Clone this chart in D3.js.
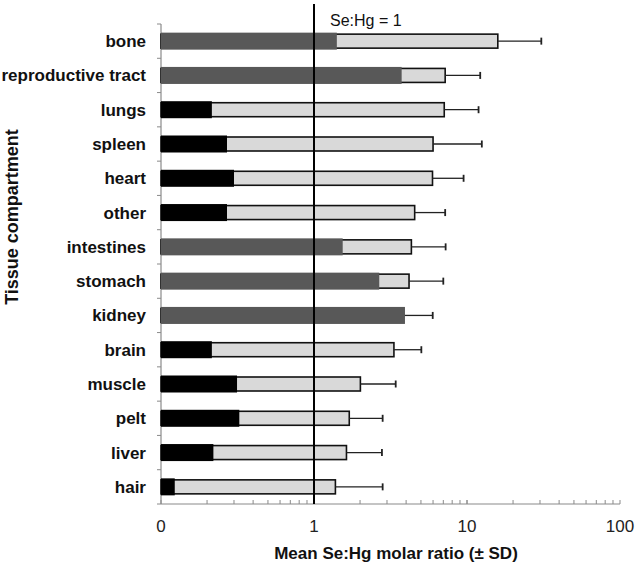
<!DOCTYPE html>
<html>
<head>
<meta charset="utf-8">
<script src="https://cdn.jsdelivr.net/npm/d3@7"></script>
<style>
  body { margin: 0; background: #fff; }
  svg { display: block; font-family: Arial, "Liberation Sans", sans-serif; }
</style>
</head>
<body>
<svg id="chart" width="638" height="578"></svg>
<script>
const categories = ["bone","reproductive tract","lungs","spleen","heart","other","intestines","stomach","kidney","brain","muscle","pelt","liver","hair"];
// overall mean Se:Hg ratio (light bar)
const meanRatio = [15.9, 7.2, 7.1, 6.0, 5.95, 4.55, 4.33, 4.18, 3.85, 3.33, 2.01, 1.70, 1.63, 1.38];
// upper end of SD error bar
const sdUpper   = [30.6, 12.2, 11.9, 12.5, 9.5, 7.2, 7.25, 7.0, 5.97, 5.03, 3.42, 2.81, 2.78, 2.81];
// inner (overlaid) bar value
const innerValue = [1.41, 3.74, 0.215, 0.27, 0.30, 0.27, 1.54, 2.67, 3.93, 0.215, 0.314, 0.325, 0.22, 0.123];
// inner bar group: "grey" or "black"
const innerGroup = ["grey","grey","black","black","black","black","grey","grey","grey","black","black","black","black","black"];
const xTickValues = [0.1, 1, 10, 100];
const xTickLabels = ["0", "1", "10", "100"];

(function () {
const svg = d3.select("#chart");
const mLeft = 161, mRight = 620, mTop = 24, mBottom = 504;

const x = d3.scaleLog().domain([0.1, 100]).range([mLeft, mRight]);
const y = d3.scaleBand().domain(categories).range([mTop, mBottom]).padding(0);
const bw = y.bandwidth();
const axisColor = "#8a8a8a";

// x axis
const xAxisG = svg.append("g").attr("transform", `translate(0,${mBottom})`);
xAxisG.append("line").attr("x1", mLeft).attr("x2", mRight).attr("stroke", axisColor).attr("stroke-width", 1.2);
const minor = [];
for (let d = 0.1; d < 100; d *= 10) for (let k = 1; k <= 10; k++) minor.push(d * k);
xAxisG.selectAll("line.tk").data(minor).join("line").attr("class", "tk")
  .attr("x1", d => x(d)).attr("x2", d => x(d)).attr("y1", 0).attr("y2", -4)
  .attr("stroke", axisColor).attr("stroke-width", 1);
xAxisG.selectAll("text").data(xTickValues).join("text")
  .attr("x", d => x(d)).attr("y", 28).attr("text-anchor", "middle")
  .attr("font-size", 17).attr("fill", "#222")
  .text((d, i) => xTickLabels[i]);

// y axis
const yAxisG = svg.append("g");
yAxisG.append("line").attr("x1", mLeft).attr("x2", mLeft).attr("y1", mTop).attr("y2", mBottom)
  .attr("stroke", axisColor).attr("stroke-width", 1.2);
const bounds = categories.map(c => y(c)).concat([mBottom]);
yAxisG.selectAll("line.tk").data(bounds).join("line").attr("class", "tk")
  .attr("x1", mLeft - 4).attr("x2", mLeft).attr("y1", d => d).attr("y2", d => d)
  .attr("stroke", axisColor).attr("stroke-width", 1);
yAxisG.selectAll("text").data(categories).join("text")
  .attr("x", 146).attr("y", d => y(d) + bw / 2 + 6)
  .attr("text-anchor", "end").attr("font-size", 17).attr("font-weight", "bold").attr("fill", "#111")
  .text(d => d);

// light bars
const lightH = 14, darkH = 17;
svg.append("g").selectAll("rect").data(categories).join("rect")
  .attr("x", x(0.1)).attr("y", d => y(d) + bw / 2 - lightH / 2)
  .attr("width", (d, i) => x(meanRatio[i]) - x(0.1)).attr("height", lightH)
  .attr("fill", "#d9d9d9").attr("stroke", "#111").attr("stroke-width", 1.6);

// error bars
const eb = svg.append("g").attr("stroke", "#222").attr("stroke-width", 1.3);
categories.forEach((c, i) => {
  const cy = y(c) + bw / 2;
  eb.append("line").attr("x1", x(meanRatio[i])).attr("x2", x(sdUpper[i])).attr("y1", cy).attr("y2", cy);
  eb.append("line").attr("x1", x(sdUpper[i])).attr("x2", x(sdUpper[i])).attr("y1", cy - 3.5).attr("y2", cy + 3.5).attr("stroke-width", 1.8);
});

// inner bars
svg.append("g").selectAll("rect").data(categories).join("rect")
  .attr("x", x(0.1)).attr("y", d => y(d) + bw / 2 - darkH / 2)
  .attr("width", (d, i) => x(innerValue[i]) - x(0.1)).attr("height", darkH)
  .attr("fill", (d, i) => innerGroup[i] === "grey" ? "#585858" : "#000");

// reference line
svg.append("line").attr("x1", x(1)).attr("x2", x(1)).attr("y1", 4).attr("y2", mBottom)
  .attr("stroke", "#000").attr("stroke-width", 2);
svg.append("text").attr("x", x(1) + 16).attr("y", 26).attr("font-size", 16).attr("fill", "#111").text("Se:Hg = 1");

// titles
svg.append("text").attr("x", 396).attr("y", 559).attr("text-anchor", "middle")
  .attr("font-size", 17).attr("font-weight", "bold").attr("fill", "#111")
  .text("Mean Se:Hg molar ratio (± SD)");
svg.append("text").attr("transform", "translate(18,217) rotate(-90)").attr("text-anchor", "middle")
  .attr("font-size", 18).attr("font-weight", "bold").attr("fill", "#111")
  .text("Tissue compartment");
})();
</script>
</body>
</html>
